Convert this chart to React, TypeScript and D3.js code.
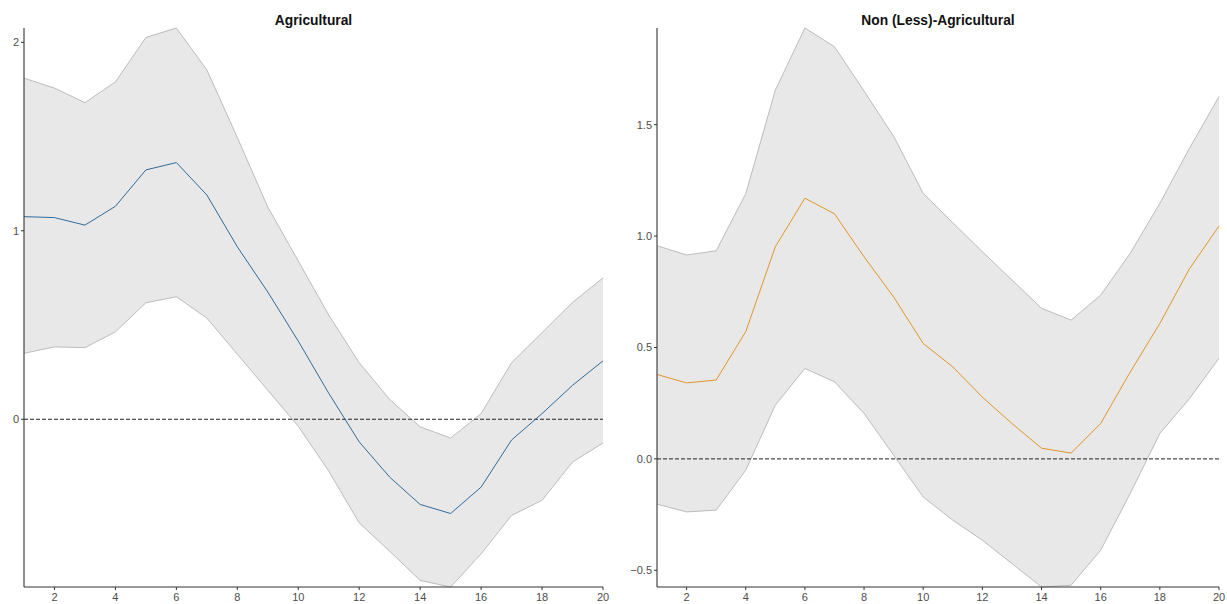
import React from "react";
import * as d3 from "d3";

const horizons = [1, 2, 3, 4, 5, 6, 7, 8, 9, 10, 11, 12, 13, 14, 15, 16, 17, 18, 19, 20];

const agriMean = [1.075, 1.07, 1.03, 1.13, 1.323, 1.362, 1.19, 0.915, 0.675, 0.415, 0.138, -0.12, -0.307, -0.452, -0.5, -0.36, -0.11, 0.03, 0.18, 0.31];
const agriUpper = [1.81, 1.757, 1.68, 1.79, 2.026, 2.076, 1.854, 1.495, 1.126, 0.84, 0.553, 0.3, 0.105, -0.04, -0.1, 0.03, 0.3, 0.46, 0.62, 0.75];
const agriLower = [0.35, 0.384, 0.38, 0.464, 0.618, 0.65, 0.537, 0.345, 0.154, -0.037, -0.275, -0.55, -0.7, -0.855, -0.89, -0.714, -0.51, -0.43, -0.227, -0.126];

const nonMean = [0.379, 0.341, 0.354, 0.571, 0.952, 1.17, 1.1, 0.907, 0.727, 0.518, 0.413, 0.277, 0.159, 0.048, 0.026, 0.159, 0.39, 0.608, 0.853, 1.045];
const nonUpper = [0.957, 0.915, 0.934, 1.19, 1.655, 1.934, 1.85, 1.651, 1.448, 1.192, 1.06, 0.93, 0.803, 0.676, 0.623, 0.735, 0.923, 1.147, 1.394, 1.626];
const nonLower = [-0.203, -0.238, -0.23, -0.051, 0.241, 0.406, 0.346, 0.204, 0.017, -0.171, -0.275, -0.365, -0.47, -0.575, -0.567, -0.41, -0.155, 0.114, 0.27, 0.452];

const xTicks = [2, 4, 6, 8, 10, 12, 14, 16, 18, 20];
const agriYTicks = [0, 1, 2];
const nonYTicks = [-0.5, 0.0, 0.5, 1.0, 1.5];

const titles = ["Agricultural", "Non (Less)-Agricultural"];

const FONT = "'Liberation Sans', Arial, sans-serif";

type PanelProps = {
  title: string;
  mean: number[];
  upper: number[];
  lower: number[];
  yTicks: number[];
  fmt: (v: number) => string;
  x0: number;
  x1: number;
  color: string;
};

function Panel({ title, mean, upper, lower, yTicks, fmt, x0, x1, color }: PanelProps) {
  const top = 28;
  const bottom = 587;
  const x = d3.scaleLinear().domain([1, 20]).range([x0, x1]);
  const ymin = d3.min(lower) as number;
  const ymax = d3.max(upper) as number;
  const y = d3.scaleLinear().domain([ymin, ymax]).range([bottom, top]);

  const rows = horizons.map((h, i) => ({ h, m: mean[i], u: upper[i], l: lower[i] }));
  const area = d3
    .area<any>()
    .x((d) => x(d.h))
    .y0((d) => y(d.l))
    .y1((d) => y(d.u));
  const upLine = d3.line<any>().x((d) => x(d.h)).y((d) => y(d.u));
  const loLine = d3.line<any>().x((d) => x(d.h)).y((d) => y(d.l));
  const mLine = d3.line<any>().x((d) => x(d.h)).y((d) => y(d.m));

  return (
    <g>
      <path d={area(rows) || ""} fill="#e8e8e8" stroke="none" />
      <path d={upLine(rows) || ""} fill="none" stroke="#bcbcbc" strokeWidth={1} />
      <path d={loLine(rows) || ""} fill="none" stroke="#bcbcbc" strokeWidth={1} />
      <line x1={x0} x2={x1} y1={y(0)} y2={y(0)} stroke="#222" strokeWidth={1} strokeDasharray="4,2" />
      <path d={mLine(rows) || ""} fill="none" stroke={color} strokeWidth={1} />
      <line x1={x0} x2={x0} y1={top} y2={bottom} stroke="#333" strokeWidth={1.1} />
      <line x1={x0} x2={x1} y1={bottom} y2={bottom} stroke="#333" strokeWidth={1.1} />
      {yTicks.map((t) => (
        <g key={"y" + t}>
          <line x1={x0 - 3} x2={x0} y1={y(t)} y2={y(t)} stroke="#333" strokeWidth={1} />
          <text x={x0 - 5} y={y(t)} dy="0.35em" textAnchor="end" fontSize={11} fill="#4d4d4d" fontFamily={FONT}>
            {fmt(t)}
          </text>
        </g>
      ))}
      {xTicks.map((t) => (
        <g key={"x" + t}>
          <line x1={x(t)} x2={x(t)} y1={bottom} y2={bottom + 3} stroke="#333" strokeWidth={1} />
          <text x={x(t)} y={bottom + 14} textAnchor="middle" fontSize={11} fill="#4d4d4d" fontFamily={FONT}>
            {t}
          </text>
        </g>
      ))}
      <text x={(x0 + x1) / 2} y={25} textAnchor="middle" fontSize={13.8} fontWeight="bold" fill="#111" fontFamily={FONT}>
        {title}
      </text>
    </g>
  );
}

export default function App() {
  const fmtInt = d3.format("d");
  const fmt1 = (v: number) => d3.format(".1f")(v).replace("-", "\u2212");
  return (
    <svg width={1227} height={604} style={{ position: "absolute", left: 0, top: 0, background: "#fff" }}>
      <Panel
        title={titles[0]}
        mean={agriMean}
        upper={agriUpper}
        lower={agriLower}
        yTicks={agriYTicks}
        fmt={fmtInt}
        x0={24}
        x1={603}
        color="#2f6b9a"
      />
      <Panel
        title={titles[1]}
        mean={nonMean}
        upper={nonUpper}
        lower={nonLower}
        yTicks={nonYTicks}
        fmt={fmt1}
        x0={657}
        x1={1219}
        color="#e0962a"
      />
    </svg>
  );
}
